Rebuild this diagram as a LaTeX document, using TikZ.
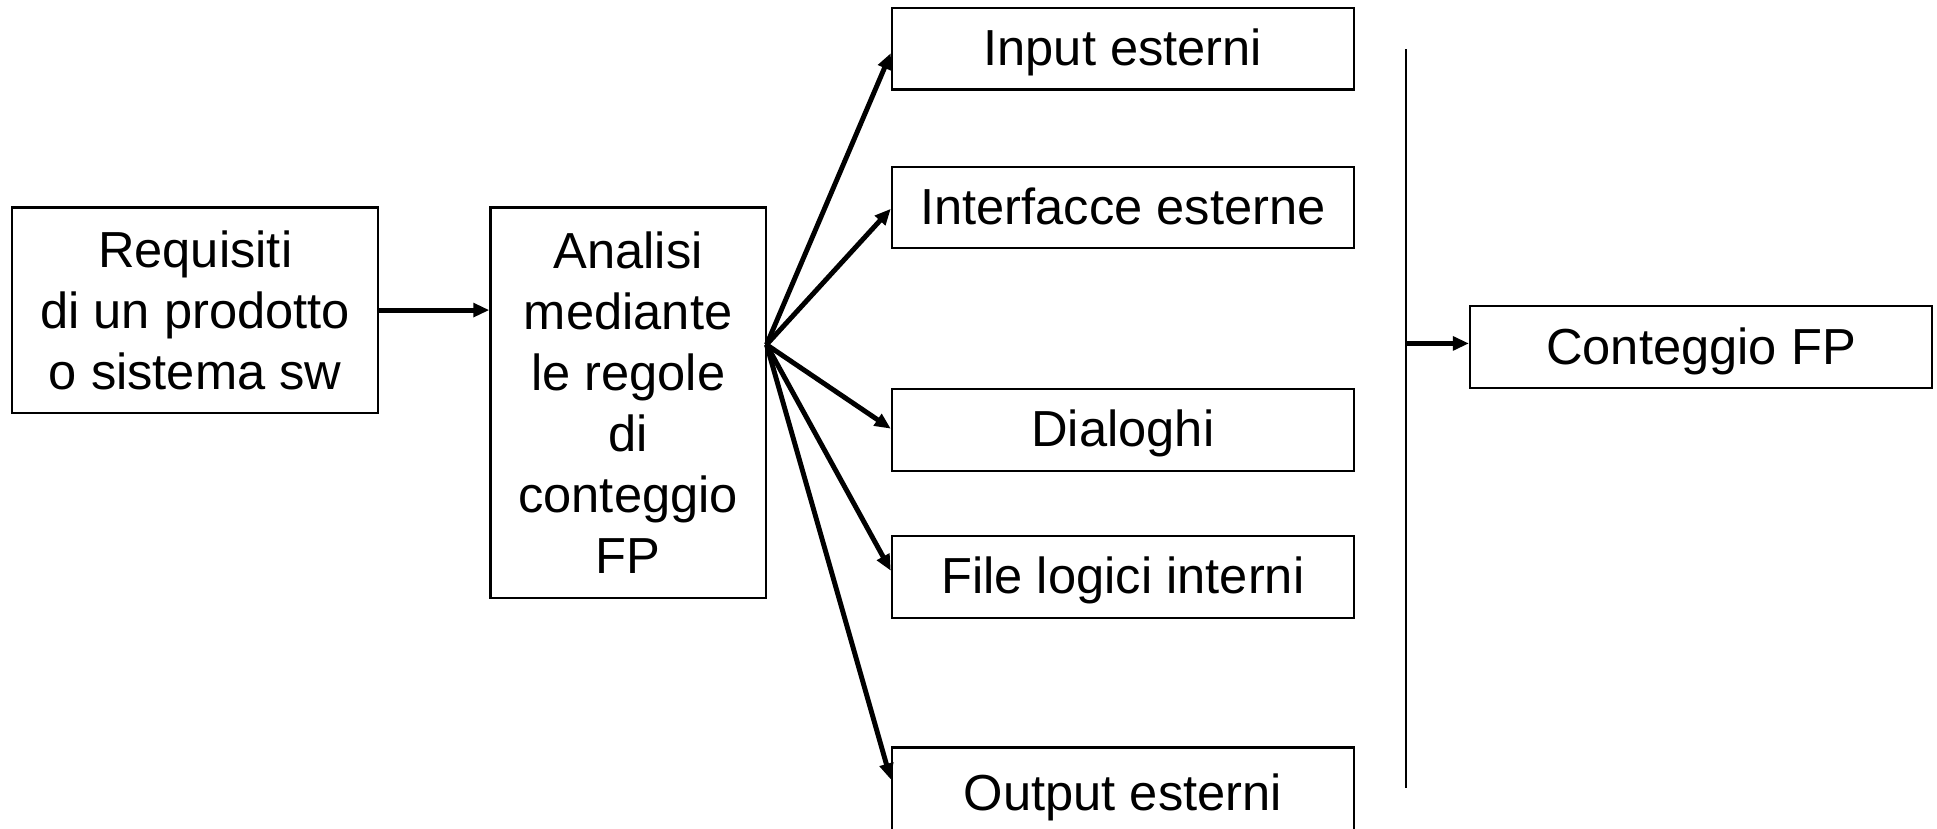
\documentclass[tikz,border=0pt]{standalone}
\usepackage{fontspec}
\setmainfont{Liberation Sans}
\usetikzlibrary{arrows.meta}
\begin{document}
\begin{tikzpicture}[x=0.5pt,y=-0.5pt,
  box/.style={draw=black,line width=0.9pt,inner sep=0pt,align=center,
    font=\fontsize{20.5pt}{24.75pt}\selectfont},
  rbox/.style={box,minimum width=187pt,minimum height=33pt,text height=17pt,text depth=3.3pt},
  arr/.style={line width=2pt,-{Triangle[length=6.5pt,width=5.5pt]}},
  vline/.style={line width=0.8pt}]
\useasboundingbox (0,0) rectangle (1568,671);
\clip (0,0) rectangle (1568,671);
\node[box,minimum width=148pt,minimum height=83pt] (req) at (158,251) {Requisiti\\di un prodotto\\o sistema sw};
\node[box,minimum width=111.5pt,minimum height=158pt] (ana) at (508.5,326) {Analisi\\mediante\\le regole\\di\\conteggio\\FP};
\node[rbox] (inp) at (909,39.5) {Input esterni};
\node[rbox] (itf) at (909,168) {Interfacce esterne};
\node[rbox] (dia) at (909,348) {Dialoghi};
\node[rbox] (fil) at (909,467) {File logici interni};
\node[rbox,minimum height=37pt] (out) at (909,642) {Output esterni};
\node[rbox] (cnt) at (1377,281) {Conteggio FP};
\coordinate (fan) at (620.5,279);
\coordinate (vtop) at (1138,40);
\coordinate (vbot) at (1138,638);
\coordinate (vmid) at (1138,278);
\draw[arr] (req.east) -- (req.east -| ana.west);
\draw[arr] (fan) -- ([yshift=-1.75pt]inp.west);
\draw[arr] (fan) -- ([yshift=-0.5pt]itf.west);
\draw[arr] (fan) -- ([yshift=0.5pt]dia.west);
\draw[arr] (fan) -- ([yshift=2.5pt]fil.west);
\draw[arr] (fan) -- ([yshift=5.5pt]out.west);
\draw[vline] (vtop) -- (vbot);
\draw[arr] (vmid) -- (vmid -| cnt.west);
\end{tikzpicture}
\end{document}
